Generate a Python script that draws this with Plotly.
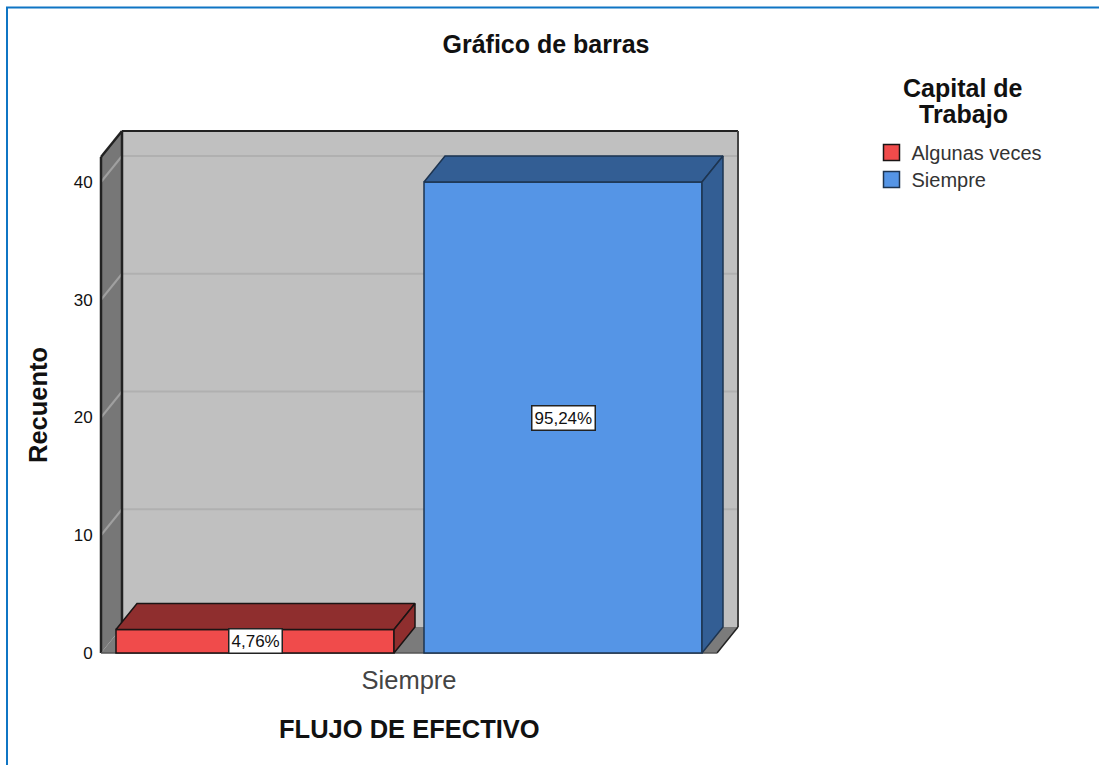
"""
Gráfico de barras: Capital de Trabajo por FLUJO DE EFECTIVO (3D style bars).
"""

import plotly.graph_objects as go

# Data
category = ["Siempre"]
series_names = ["Algunas veces", "Siempre"]
counts = [2, 40]
pct_labels = ["4,76%", "95,24%"]
y_ticks = [0, 10, 20, 30, 40]

front_colors = ["#f04b4b", "#5595e6"]
dark_colors = ["#8f2e2e", "#335e94"]
edge_colors = ["#1a1414", "#1d3450"]

W, H = 1099, 765

# Pixel geometry of the chart box
X_ZERO, X_UNIT = 409, 616      # px of category centre, px per category
Y_ZERO, Y_UNIT = 653, 11.775   # px of count 0, px per count
DX = 21 / X_UNIT               # depth of the 3D box in axis units
DY = 26 / Y_UNIT
PAD = 3
PLOT_L, PLOT_R, PLOT_T, PLOT_B = 101 - PAD, 739 + PAD, 131 - PAD, 653 + PAD

X_MIN, X_MAX = -0.5, 0.5       # front edge of the floor
Y_TOP = (Y_ZERO - 157) / Y_UNIT

# 30 px between the bars, 15 px from the bars to the floor edge
BAR_GAP = 0
GROUP_GAP = 30 / 308
group_w = 1 - BAR_GAP
slot_w = group_w / len(counts)
bar_w = slot_w * (1 - GROUP_GAP)

AXIS_DARK = "#222222"
FRAME_BLUE = "#0f75c4"


def paper_x(px):
    return (px - PLOT_L) / (PLOT_R - PLOT_L)


def paper_y(px):
    return 1 - (px - PLOT_T) / (PLOT_B - PLOT_T)


def path(points):
    return "M" + "L".join(f"{x},{y}" for x, y in points) + "Z"


def face(points, color):
    return dict(type="path", xref="x", yref="y", layer="below", path=path(points),
                fillcolor=color, line=dict(width=0))


def edge(p0, p1, color=AXIS_DARK, width=2.5):
    return dict(type="line", xref="x", yref="y", layer="below",
                x0=p0[0], y0=p0[1], x1=p1[0], y1=p1[1], line=dict(color=color, width=width))


def label(text, x_px, y_px, size, angle=0):
    return dict(x=paper_x(x_px), y=paper_y(y_px), xref="paper", yref="paper",
                xanchor="center", yanchor="middle", text=f"<b>{text}</b>", showarrow=False,
                textangle=angle, font=dict(size=size, color="#111111"))


back_bl = (X_MIN + DX, DY)
back_br = (X_MAX + DX, DY)
back_tr = (X_MAX + DX, Y_TOP + DY)
back_tl = (X_MIN + DX, Y_TOP + DY)
front_bl = (X_MIN, 0)
front_br = (X_MAX, 0)
front_tl = (X_MIN, Y_TOP)

shapes = [
    face([back_bl, back_br, back_tr, back_tl], "#c0c0c0"),
    face([front_bl, back_bl, back_tl, front_tl], "#777777"),
    face([front_bl, front_br, back_br, back_bl], "#7b7b7b"),
]

for tick in y_ticks[1:]:
    shapes.append(edge((X_MIN + DX, tick + DY), (X_MAX + DX, tick + DY), "#b0b0b0", 2))
    shapes.append(edge((X_MIN, tick), (X_MIN + DX, tick + DY), "#a0a0a0", 2))

shapes += [
    edge(back_tl, back_tr, AXIS_DARK, 2),
    edge(back_tr, back_br, "#444444", 2),
    edge(back_tl, back_bl),
    edge(front_tl, back_tl),
    edge(front_tl, front_bl),
    edge(back_br, front_br, AXIS_DARK, 1.5),
    edge(front_bl, front_br, "#555555", 1.5),
]

# window frame of the screenshot
shapes.append(dict(type="line", xref="paper", yref="paper", x0=paper_x(6), x1=paper_x(W),
                   y0=paper_y(7.5), y1=paper_y(7.5), line=dict(color=FRAME_BLUE, width=2)))
shapes.append(dict(type="line", xref="paper", yref="paper", x0=paper_x(7), x1=paper_x(7),
                   y0=paper_y(7), y1=paper_y(H), line=dict(color=FRAME_BLUE, width=2)))

fig = go.Figure()

annotations = []
for i, (name, count) in enumerate(zip(series_names, counts)):
    fig.add_trace(go.Bar(
        x=[0], y=[count], name=name, showlegend=False,
        marker=dict(color=front_colors[i], line=dict(color=edge_colors[i], width=1.5)),
    ))

    left = -group_w / 2 + slot_w * i + (slot_w - bar_w) / 2
    right = left + bar_w

    # top face
    fig.add_trace(go.Scatter(
        x=[left, right, right + DX, left + DX, left],
        y=[count, count, count + DY, count + DY, count],
        mode="lines", fill="toself", fillcolor=dark_colors[i],
        line=dict(color=edge_colors[i], width=1.5), showlegend=False, hoverinfo="skip",
    ))
    # side face
    fig.add_trace(go.Scatter(
        x=[right, right + DX, right + DX, right, right],
        y=[0, DY, count + DY, count, 0],
        mode="lines", fill="toself", fillcolor=dark_colors[i],
        line=dict(color=edge_colors[i], width=1.5), showlegend=False, hoverinfo="skip",
    ))

    annotations.append(dict(
        x=(left + right) / 2, y=count / 2, xref="x", yref="y", text=pct_labels[i], showarrow=False,
        font=dict(family="Liberation Sans", size=17, color="#111111"),
        bgcolor="white", bordercolor="#222222", borderwidth=1.5, borderpad=2,
    ))

# legend title, two lines set closer than a plain line break
annotations.append(label("Capital de", 963, 88, 25))
annotations.append(label("Trabajo", 963, 114, 25))

# axis titles are off the plot centre, the box is drawn wider than the floor
annotations.append(label("FLUJO DE EFECTIVO", 409.5, 729, 25.5))
annotations.append(label("Recuento", 38, 405, 25.5, angle=-90))

# legend swatches, one legend per row to get the row spacing of the original
legend_names = ["legend", "legend2"]
for name, color, edge_color, legend_name in zip(series_names, front_colors, edge_colors, legend_names):
    fig.add_trace(go.Scatter(
        x=[None], y=[None], name=name, mode="markers", legend=legend_name,
        marker=dict(symbol="square", size=16, color=color, line=dict(color=edge_color, width=1.5)),
    ))

legend_style = dict(
    xanchor="left",
    yanchor="top",
    font=dict(size=20, color="#333333"),
    bgcolor="rgba(0,0,0,0)",
    itemclick=False,
)

fig.update_layout(
    width=W,
    height=H,
    autosize=False,
    barmode="group",
    bargap=BAR_GAP,
    bargroupgap=GROUP_GAP,
    paper_bgcolor="white",
    plot_bgcolor="white",
    font=dict(family="Liberation Sans", color="#111111"),
    margin=dict(l=PLOT_L, r=W - PLOT_R, t=PLOT_T, b=H - PLOT_B, autoexpand=False),
    title=dict(text="<b>Gráfico de barras</b>", x=546 / W, xanchor="center", y=1 - 44 / H, yanchor="middle",
               font=dict(size=25, color="#111111")),
    shapes=shapes,
    annotations=annotations,
    legend=dict(x=paper_x(871.5), y=paper_y(133), **legend_style),
    legend2=dict(x=paper_x(871.5), y=paper_y(160), **legend_style),
    xaxis=dict(
        range=[(PLOT_L - X_ZERO) / X_UNIT, (PLOT_R - X_ZERO) / X_UNIT],
        tickvals=[0], ticktext=category,
        tickfont=dict(size=25.5, color="#444444"),
        showgrid=False, zeroline=False, showline=False,
        ticks="outside", ticklen=1, tickcolor="rgba(0,0,0,0)",
    ),
    yaxis=dict(
        range=[(Y_ZERO - PLOT_B) / Y_UNIT, (Y_ZERO - PLOT_T) / Y_UNIT],
        tickvals=y_ticks,
        tickfont=dict(size=17, color="#111111"),
        showgrid=False, zeroline=False, showline=False,
        ticks="outside", ticklen=1, tickcolor="rgba(0,0,0,0)",
    ),
)

fig.write_html(
    "out.html",
    config={"displayModeBar": False},
    post_script="document.body.style.margin='0';document.body.style.overflow='hidden';",
)
